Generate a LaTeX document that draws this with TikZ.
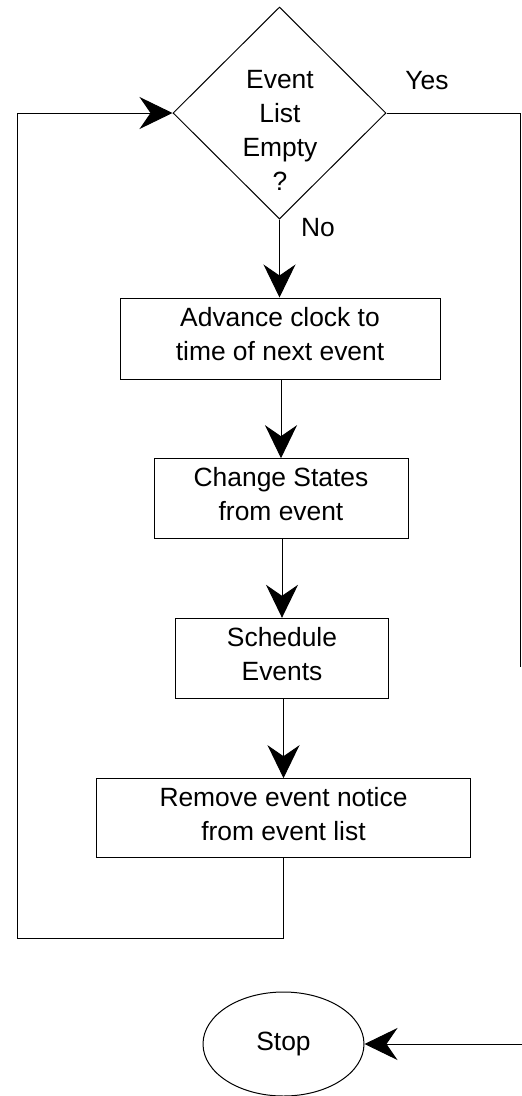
\documentclass[tikz,border=0pt]{standalone}
\usepackage{fontspec}
\setmainfont{Liberation Sans}
\usetikzlibrary{shapes.geometric,arrows.meta}
\begin{document}
\begin{tikzpicture}[x=1pt,y=-1pt,
  font=\fontsize{26.4}{34}\selectfont,
  line width=1pt,
  proc/.style={draw, rectangle, align=center, inner sep=0pt, text depth=9pt},
  flow/.style={-{Stealth[length=33pt,width=32pt,inset=11pt]}},
]
\useasboundingbox (0,0) rectangle (522,1096);

% decision
\node[draw, diamond, minimum width=213pt, minimum height=212pt, inner sep=0pt] (test) at (279.5,113) {};
\node[align=center, inner sep=0pt] (testtxt) at (280,130.5) {Event\\List\\Empty\\?};
\node[inner sep=0pt] (yes) at (427,80.5) {Yes};
\node[inner sep=0pt] (no) at (318,227.5) {No};

% process steps
\node[proc, minimum width=320pt, minimum height=81pt] (adv) at (280,338.5) {Advance clock to\\time of next event};
\node[proc, minimum width=254pt, minimum height=80pt] (chg) at (281,498.7) {Change States\\from event};
\node[proc, minimum width=213pt, minimum height=80pt] (sch) at (282,658.3) {Schedule\\Events};
\node[proc, minimum width=374pt, minimum height=79pt] (rem) at (283.5,818.2) {Remove event notice\\from event list};

% terminal
\node[draw, ellipse, minimum width=161pt, minimum height=104pt, inner sep=0pt] (stop) at (283.5,1044) {Stop};

% free ends of the connectors
\coordinate (lb) at (17,938);
\coordinate (rt) at (520,667);
\coordinate (rin) at (522,1044);

% connectors
\draw[flow] (test.south) -- (test.south |- adv.north);
\draw[flow] (adv.south -| chg.north) -- (chg.north);
\draw[flow] (chg.south -| sch.north) -- (sch.north);
\draw[flow] (sch.south -| rem.north) -- (rem.north);
\draw[flow] (rem.south) |- (lb) |- (test.west);
\draw (test.east) -| (rt);
\draw[flow] (rin) -- (stop.east);
\end{tikzpicture}
\end{document}
